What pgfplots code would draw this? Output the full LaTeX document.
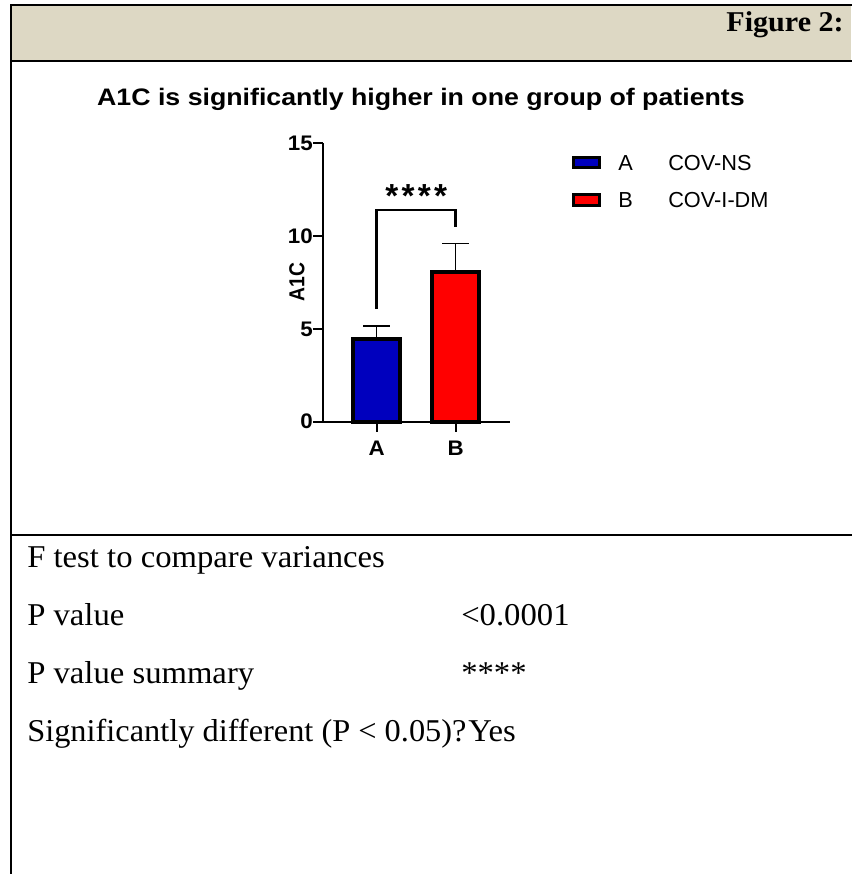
\documentclass[border=0pt]{standalone}
\usepackage{pgfplots}
\pgfplotsset{compat=1.18}
\usepackage{fontspec}
\setmainfont{Liberation Serif}
\newfontfamily\arial{Liberation Sans}
\usepackage{graphicx}
\definecolor{hdr}{RGB}{221,216,196}
\definecolor{barblue}{RGB}{0,0,190}
\definecolor{barred}{RGB}{255,0,0}
\newcommand\sx[2][1.12]{\scalebox{#1}[1]{#2}}
\newcommand\tfont{\fontsize{23.8pt}{28pt}\selectfont}
\newcommand\lgd[2]{\makebox[37.5pt][l]{#1}#2}
\pgfplotsset{mylegend/.style={legend image code/.code={\draw[##1, line width=2.25pt] (0pt,-4.1pt) rectangle (19.5pt,4.1pt);}}}

\begin{document}
\begin{tikzpicture}
\useasboundingbox (0,0) rectangle (638.25pt,-655.5pt);
% frame
\fill[hdr] (8.25pt,-3.75pt) rectangle (638.25pt,-45.75pt);
\draw[line width=1.5pt] (640pt,-3.75pt) -- (8.25pt,-3.75pt) -- (8.25pt,-660pt);
\draw[line width=1.5pt] (8.25pt,-45.75pt) -- (640pt,-45.75pt);
\draw[line width=1.5pt] (8.25pt,-401.25pt) -- (640pt,-401.25pt);
\node[anchor=base east, inner sep=0pt, font=\bfseries\fontsize{21.5pt}{25pt}\selectfont] at (633pt,-23.8pt) {\sx[1.05]{Figure 2:}};
% title
\node[anchor=base, inner sep=0pt, font=\arial\bfseries\fontsize{17.9pt}{21pt}\selectfont] at (315.7pt,-78.75pt) {\sx{A1C is significantly higher in one group of patients}};
% table text
\begin{scope}[every node/.style={anchor=base west, inner sep=0pt, font=\tfont}]
\node at (20.25pt,-425.25pt) {\sx[1.03]{F test to compare variances}};
\node at (20.25pt,-468.75pt) {\sx[1.03]{P value}};
\node at (345.75pt,-468.75pt) {\sx[1.03]{<0.0001}};
\node at (20.25pt,-512.25pt) {\sx[1.03]{P value summary}};
\node at (345.75pt,-512.25pt) {\sx[1.03]{****}};
\node at (20.25pt,-555.75pt) {\sx[1.02]{Significantly different (P < 0.05)?}};
\node at (351pt,-555.75pt) {\sx[1.03]{Yes}};
\end{scope}
% chart
\begin{axis}[
  at={(242.25pt,-316.3pt)}, anchor=south west,
  scale only axis, width=140.25pt, height=208.8pt,
  xmin=-0.68, xmax=1.687, ymin=0, ymax=15,
  axis lines=left,
  axis line style={-, line width=1.65pt, black},
  tick style={line width=1.65pt, black},
  major tick length=7.5pt, tick align=outside,
  xtick={0,1}, xticklabels={\sx[1.06]{A},\sx[1.06]{B}},
  ytick={0,5,10,15}, yticklabels={\sx[1.06]{0},\sx[1.06]{5},\sx[1.06]{10},\sx[1.06]{15}},
  ticklabel style={font=\arial\bfseries\fontsize{15.8pt}{18pt}\selectfont, inner sep=0pt},
  xticklabel style={anchor=north, yshift=-7pt},
  yticklabel style={anchor=east},
  ylabel={\scalebox{1}[1.12]{A1C}},
  ylabel style={font=\arial\bfseries\fontsize{14.5pt}{17pt}\selectfont, at={(axis description cs:-0.139,0.502)}, anchor=center, inner sep=0pt},
  ybar, bar width=0.6,
  clip=false,
  legend style={draw=none, fill=none, at={(axis description cs:1.330,1.0)}, anchor=north west,
    inner sep=0pt, row sep=0pt, column sep=13pt,
    font=\arial\fontsize{16.3pt}{19pt}\selectfont,
    cells={anchor=west},
    nodes={inner sep=0pt, text height=19.95pt, text depth=8.35pt}},
]
\addplot[mylegend, bar shift=0pt, fill=barblue, draw=black, line width=3pt,
  error bars/.cd, y dir=plus, y explicit,
  error bar style={line width=1.1pt, black},
  error mark options={line width=1.1pt, black, mark size=10pt, rotate=90}]
  coordinates {(0,4.46) +- (0,0.71)};
\addlegendentry{\lgd{A}{COV-NS}}
\addplot[mylegend, bar shift=0pt, fill=barred, draw=black, line width=3pt,
  error bars/.cd, y dir=plus, y explicit,
  error bar style={line width=1.1pt, black},
  error mark options={line width=1.1pt, black, mark size=10pt, rotate=90}]
  coordinates {(1,8.08) +- (0,1.53)};
\addlegendentry{\lgd{B}{COV-I-DM}}
\draw[line width=2pt] (axis cs:0,6.07) -- (axis cs:0,11.4) -- (axis cs:1,11.4) -- (axis cs:1,10.5);
\node[anchor=base, inner sep=0pt, font=\arial\bfseries\fontsize{25pt}{27pt}\selectfont] at (axis cs:0.5,11.55) {*\hspace{2.5pt}*\hspace{2.5pt}*\hspace{2.5pt}*};
\end{axis}
\end{tikzpicture}
\end{document}
